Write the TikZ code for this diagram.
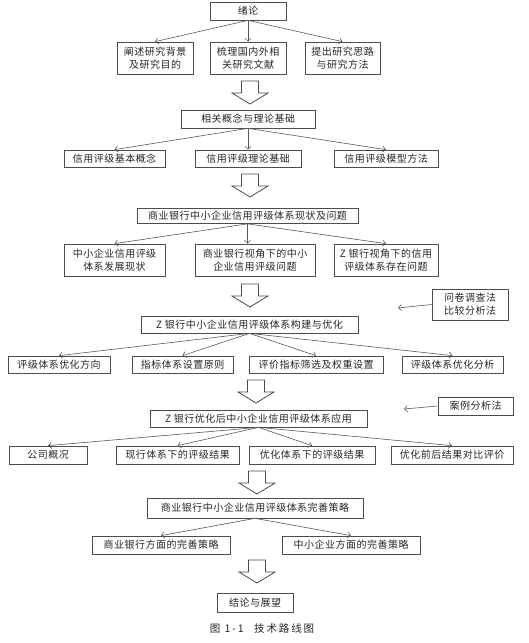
\documentclass[tikz,border=0pt]{standalone}
\usepackage{fontspec}
\setmainfont[LetterSpace=5]{Noto Sans CJK SC}
\usetikzlibrary{arrows.meta}

\tikzset{
  box/.style={draw=black!70, line width=0.7pt, inner sep=0pt, align=center,
    text=black!85, font=\fontsize{10pt}{13pt}\selectfont},
  link/.style={draw=black!65, line width=0.6pt, -{Straight Barb[length=3pt,width=6pt]}},
  bigarrow/.style={draw=black!70, line width=0.8pt, fill=white, line join=miter}
}

\begin{document}
\begin{tikzpicture}[x=1pt, y=-1pt]
\def\xl{114.5};
\def\xm{248};
\def\xr{386};

\useasboundingbox (0,0) rectangle (528,643);
\fill[white] (0,0) rectangle (528,643);

\node [box, minimum width=76pt, minimum height=18pt] (intro) at (\xm, 11) {绪论};
\node [box, minimum width=76pt, minimum height=32pt] (bg) at (155, 58) {阐述研究背景\\及研究目的};
\node [box, minimum width=76pt, minimum height=32pt] (lit) at (\xm, 58) {梳理国内外相\\关研究文献};
\node [box, minimum width=75pt, minimum height=32pt] (way) at (342.5, 58) {提出研究思路\\与研究方法};

\node [box, minimum width=134pt, minimum height=18pt] (theo) at (\xm, 119) {相关概念与理论基础};
\node [box, minimum width=101pt, minimum height=17pt] (cpt) at (\xl, 158.5) {信用评级基本概念};
\node [box, minimum width=106pt, minimum height=17pt] (base) at (\xm, 158.5) {信用评级理论基础};
\node [box, minimum width=104pt, minimum height=17pt] (model) at (\xr, 158.5) {信用评级模型方法};

\node [box, minimum width=221pt, minimum height=15pt] (stat) at (247.5, 216) {商业银行中小企业信用评级体系现状及问题};
\node [box, minimum width=101pt, minimum height=32pt] (dev) at (\xl, 260) {中小企业信用评级\\体系发展现状};
\node [box, minimum width=120pt, minimum height=32pt] (bank) at (255, 260) {商业银行视角下的中小\\企业信用评级问题};
\node [box, minimum width=104pt, minimum height=32pt] (zbank) at (\xr, 260) {Z 银行视角下的信用\\评级体系存在问题};

\node [box, minimum width=76pt, minimum height=31pt] (survey) at (470, 304.5) {问卷调查法\\比较分析法};
\coordinate (survey end) at (398, 308);

\node [box, minimum width=217pt, minimum height=17pt] (cons) at (249.5, 324.5) {Z 银行中小企业信用评级体系构建与优化};
\node [box, minimum width=102pt, minimum height=17pt] (dir) at (59, 364.5) {评级体系优化方向};
\node [box, minimum width=101pt, minimum height=17pt] (rule) at (182.5, 364.5) {指标体系设置原则};
\node [box, minimum width=134pt, minimum height=17pt] (index) at (316, 364.5) {评价指标筛选及权重设置};
\node [box, minimum width=101pt, minimum height=17pt] (anal) at (452.5, 364.5) {评级体系优化分析};

\node [box, minimum width=75pt, minimum height=18pt] (case) at (475.5, 406) {案例分析法};
\coordinate (case end) at (404, 409);

\node [box, minimum width=217pt, minimum height=17pt] (app) at (258.5, 418.5) {Z 银行优化后中小企业信用评级体系应用};
\node [box, minimum width=78pt, minimum height=18pt] (firm) at (48, 455) {公司概况};
\node [box, minimum width=123pt, minimum height=18pt] (cur) at (177.5, 455) {现行体系下的评级结果};
\node [box, minimum width=126pt, minimum height=18pt] (opt) at (312, 455) {优化体系下的评级结果};
\node [box, minimum width=122pt, minimum height=18pt] (cmp) at (452, 455) {优化前后结果对比评价};

\node [box, minimum width=216pt, minimum height=20pt] (imp) at (255, 508) {商业银行中小企业信用评级体系完善策略};
\node [box, minimum width=138pt, minimum height=18pt] (side) at (161, 545) {商业银行方面的完善策略};
\node [box, minimum width=138pt, minimum height=18pt] (sme) at (351, 545) {中小企业方面的完善策略};

\node [box, minimum width=76pt, minimum height=19pt] (end) at (255, 602.5) {结论与展望};
\node [text=black!85, font=\fontsize{10.5pt}{13pt}\selectfont\addfontfeature{LetterSpace=18}] (cap) at (262, 628) {图 1-1\quad 技术路线图};

\draw [link] (intro.south) -- (bg.north);
\draw [link] (intro.south) -- (lit.north);
\draw [link] (intro.south) -- (way.north);

\draw [link] (theo.south) -- (cpt.north);
\draw [link] (theo.south) -- (base.north);
\draw [link] (theo.south) -- (model.north);

\draw [link] (stat.south) -- (dev.north);
\draw [link] (stat.south) -- (stat.south |- bank.north);
\draw [link] (stat.south) -- (zbank.north);

\draw [link] (survey.west) -- (survey end);

\draw [link] (cons.south) -- (dir.north);
\draw [link] (cons.south) -- (rule.north);
\draw [link] (cons.south) -- (index.north);
\draw [link] (cons.south) -- (anal.north);

\draw [link] (case.west) -- (case end);

\draw [link] (app.south) -- (firm.north);
\draw [link] (app.south) -- (cur.north);
\draw [link] (app.south) -- (opt.north);
\draw [link] (app.south) -- (cmp.north);

\draw [link] (imp.south) -- (side.north);
\draw [link] (imp.south) -- (sme.north);

\foreach \cx/\ty in {250/81, 250/174, 250/284, 256/380, 257/471, 257/560}
  \draw [bigarrow] (\cx-8.5, \ty) -- (\cx+8.5, \ty) -- (\cx+8.5, \ty+12) -- (\cx+18, \ty+12)
    -- (\cx, \ty+23) -- (\cx-18, \ty+12) -- (\cx-8.5, \ty+12) -- cycle;

\end{tikzpicture}
\end{document}
